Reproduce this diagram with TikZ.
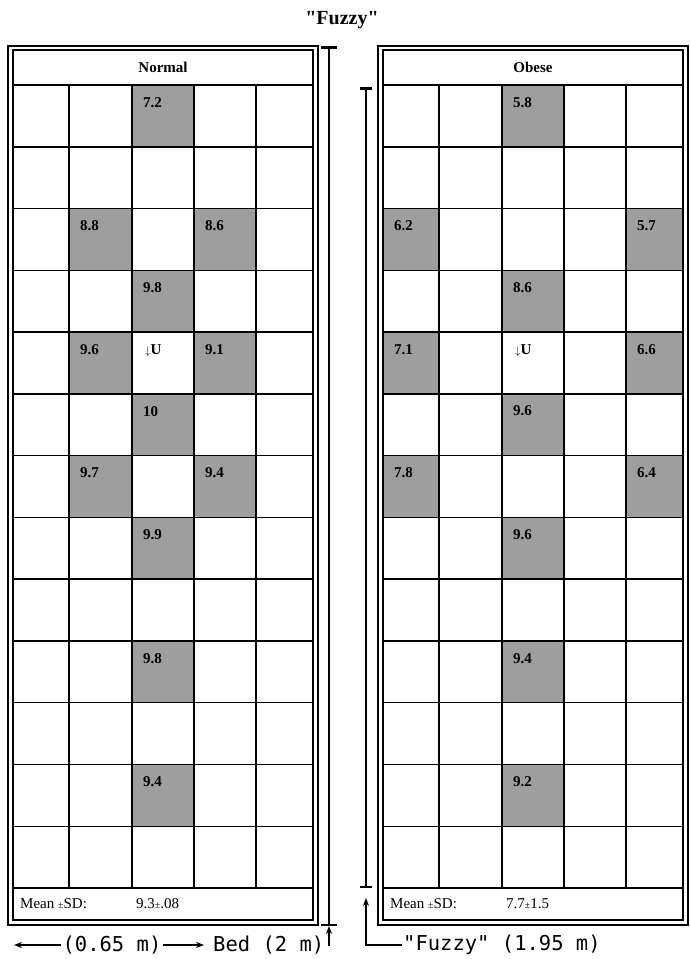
\documentclass[tikz,border=0pt]{standalone}
\usepackage{fontspec}
\setmainfont{Liberation Serif}
\setmonofont{DejaVu Sans Mono}
\usepackage{xcolor}
\usetikzlibrary{arrows.meta,positioning,calc}
\tikzset{
  frame/.style={draw, line width=1.6pt},
  gridln/.style={draw, line width=1.5pt},
  hot/.style={fill=black!38},
  val/.style={anchor=north west, inner sep=0pt, font=\bfseries\fontsize{15}{15}\selectfont},
  lbl/.style={font=\bfseries\fontsize{15}{15}\selectfont},
  meanlbl/.style={anchor=west, inner sep=0pt, font=\fontsize{15}{15}\selectfont},
  ttl/.style={font=\bfseries\fontsize{20}{20}\selectfont},
  dimtxt/.style={inner sep=1pt, font=\ttfamily\fontsize{20.5}{20.5}\selectfont},
  dimbar/.style={line width=2pt, {Bar[width=16pt,line width=2.5pt]}-{Bar[width=16pt,line width=2.5pt]}},
  dimbarb/.style={line width=2pt, {Bar[width=12pt,line width=2.5pt]}-{Bar[width=12pt,line width=2.5pt]}},
  ar/.style={-{Stealth[length=8pt,width=6pt]}, line width=1.4pt},
}
\newcommand{\spm}{{\fontsize{10}{10}\selectfont\textpm}}
% one chamber: x offset, name, heading, mean, shaded cells (row/col/value)
\newcommand{\chamber}[5]{%
  \begin{scope}[xshift=#1pt, yshift=-50pt]
    \foreach \r/\c/\v in {#5} {
      \pgfmathsetmacro{\xa}{{0,56,119,181,243,300}[\c]}
      \pgfmathsetmacro{\xb}{{0,56,119,181,243,300}[\c+1]}
      \fill[hot] (\xa,35+\r*61.77) rectangle (\xb,35+\r*61.77+61.77);
      \node[val] (#2-\r-\c) at (\xa+11,35+\r*61.77+12) {\v};
    }
    \foreach \c in {56,119,181,243}
      \draw[gridln] (\c,35) -- (\c,838);
    \foreach \r in {0,...,13}
      \draw[gridln] (0,35+\r*61.77) -- (300,35+\r*61.77);
    \draw[frame] (0,0) rectangle (300,870);
    \draw[frame] (-5,-4) rectangle (305,875);
    \node[lbl] (#2-head) at (150,17) {#3};
    \node[val] (#2-u) at (132,35+4*61.77+12) {{\fontsize{11}{11}\selectfont$\downarrow$}U};
    \node[meanlbl] (#2-mean) at (7,854) {Mean \spm SD:};
    \node[meanlbl] (#2-sd) at (123,854) {#4};
  \end{scope}}

\begin{document}
\begin{tikzpicture}[x=1pt, y=-1pt]
  \useasboundingbox (0,0) rectangle (689,959);

  \node[ttl] (title) at (342,20) {\textquotedbl Fuzzy\textquotedbl};

  \chamber{13}{nrm}{Normal}{9.3\spm.08}{0/2/7.2, 2/1/8.8, 2/3/8.6, 3/2/9.8, 4/1/9.6, 4/3/9.1, 5/2/10, 6/1/9.7, 6/3/9.4, 7/2/9.9, 9/2/9.8, 11/2/9.4}
  \chamber{383}{obs}{Obese}{7.7\spm1.5}{0/2/5.8, 2/0/6.2, 2/4/5.7, 3/2/8.6, 4/0/7.1, 4/4/6.6, 5/2/9.6, 6/0/7.8, 6/4/6.4, 7/2/9.6, 9/2/9.4, 11/2/9.2}

  % bed length
  \coordinate (bed-top) at (329,46);
  \coordinate (bed-bot) at (329,926);
  \draw[dimbar] (bed-top) -- (bed-bot);

  % fuzzy length
  \coordinate (fz-top) at (366,87);
  \coordinate (fz-bot) at (366,888);
  \draw[dimbarb] (fz-top) -- (fz-bot);

  % widths and labels
  \node[dimtxt] (wd) at (112,945) {(0.65 m)};
  \coordinate (wd-l) at (14,945);
  \coordinate (wd-r) at (204,945);
  \draw[ar] (wd) -- (wd-l);
  \draw[ar] (wd) -- (wd-r);
  \node[dimtxt, anchor=west] (bed) at (212,945) {Bed (2 m)};
  \coordinate (bed-tail) at (329,946);
  \draw[ar] (bed-tail) -- (bed-bot);

  \node[dimtxt, anchor=west] (fz) at (402,945) {"Fuzzy" (1.95 m)};
  \coordinate (fz-tip) at (366,898);
  \draw[ar] (fz.west) -| (fz-tip);
\end{tikzpicture}
\end{document}
